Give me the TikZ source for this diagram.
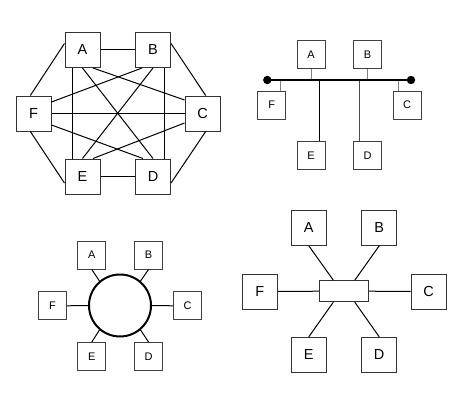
\documentclass[tikz,border=0pt]{standalone}
\usepackage{fontspec}
\setmainfont{Liberation Sans}
\tikzset{
  bigbox/.style={draw=black!80, line width=1pt, minimum size=35pt, inner sep=0pt, font=\fontsize{14.5}{14.5}\selectfont},
  smallbox/.style={draw=black!75, line width=1pt, minimum size=28pt, inner sep=0pt, font=\fontsize{11}{11}\selectfont},
  link/.style={line width=1pt},
  tap/.style={line width=1pt, draw=black!50}
}
\begin{document}
\begin{tikzpicture}[x=1pt, y=-1pt]
    \useasboundingbox (0,0) rectangle (455,412);

    % Mesh
    \node[bigbox] (mA) at (82.5,50) {A};
    \node[bigbox] (mB) at (153,50) {B};
    \node[bigbox] (mC) at (202.5,113.5) {C};
    \node[bigbox] (mD) at (153,176.5) {D};
    \node[bigbox] (mE) at (82.5,176.5) {E};
    \node[bigbox] (mF) at (33.5,113.5) {F};
    \draw[link] (mA.east) -- (mB.west);
    \draw[link] (mE.east) -- (mD.west);
    \draw[link] (mF.east) -- (mC.west);
    \draw[link] (mA.160) -- (mF.100);
    \draw[link] (mB.20) -- (mC.80);
    \draw[link] (mF.260) -- (mE.200);
    \draw[link] (mC.280) -- (mD.340);
    \draw[link] ([xshift=-10pt]mA.south) -- ([xshift=-10pt]mE.north);
    \draw[link] ([xshift=11pt]mB.south) -- ([xshift=11pt]mD.north);
    \draw[link] (mA.south) -- (mD.north);
    \draw[link] (mB.south) -- (mE.north);
    \draw[link] ([xshift=10.5pt]mA.south) -- ([yshift=13.5pt]mC.west);
    \draw[link] ([xshift=-11pt]mB.south) -- ([yshift=11.5pt]mF.east);
    \draw[link] ([yshift=-11.5pt]mF.east) -- ([xshift=-10pt]mD.north);
    \draw[link] ([xshift=10.5pt]mE.north) -- ([yshift=-9.5pt]mC.west);

    % Bus
    \node[smallbox] (bA) at (311,54.5) {A};
    \node[smallbox] (bB) at (367.5,54.5) {B};
    \node[smallbox] (bC) at (407,105) {C};
    \node[smallbox] (bD) at (367.5,155.5) {D};
    \node[smallbox] (bE) at (311,155.5) {E};
    \node[smallbox] (bF) at (271.7,105) {F};
    \coordinate (busL) at (267.3,80);
    \coordinate (busR) at (411,80);
    \coordinate (tF) at ([xshift=8.3pt]bF.north);
    \coordinate (tC) at ([xshift=-8.7pt]bC.north);
    \coordinate (tE) at ([xshift=8.3pt]bE.north);
    \coordinate (tD) at ([xshift=-8.5pt]bD.north);
    \draw[tap] (bA.south) -- (bA.south |- busL);
    \draw[tap] (bB.south) -- (bB.south |- busL);
    \draw[tap] (tF) -- (tF |- busL);
    \draw[tap] (tC) -- (tC |- busL);
    \draw[link] (tE) -- (tE |- busL);
    \draw[link, black!70] (tD) -- (tD |- busL);
    \draw[line width=2pt] (busL) -- (busR);
    \fill (busL) circle (4.2);
    \fill (busR) circle (4.2);

    % Ring
    \node[draw, circle, line width=2pt, minimum size=62pt, inner sep=0pt] (ring) at (120,305.5) {};
    \node[smallbox] (rA) at (91.8,255) {A};
    \node[smallbox] (rB) at (148.5,255) {B};
    \node[smallbox] (rC) at (187.5,305.8) {C};
    \node[smallbox] (rD) at (148.5,356.5) {D};
    \node[smallbox] (rE) at (91.8,356.5) {E};
    \node[smallbox] (rF) at (52.5,305.8) {F};
    \draw[link] (rA.south) -- (ring.130);
    \draw[link] (rB.south) -- (ring.50);
    \draw[link] (rF.east) -- (ring.west);
    \draw[link] (ring.east) -- (rC.west);
    \draw[link] (rE.north) -- (ring.230);
    \draw[link] (rD.north) -- (ring.310);

    % Star
    \node[draw=black!80, line width=1pt, minimum width=49pt, minimum height=21pt, inner sep=0pt] (hub) at (343.8,291.2) {};
    \node[bigbox] (sA) at (308.8,227.8) {A};
    \node[bigbox] (sB) at (379.2,227.8) {B};
    \node[bigbox] (sC) at (428.5,291.5) {C};
    \node[bigbox] (sD) at (379.2,354.8) {D};
    \node[bigbox] (sE) at (308.8,354.8) {E};
    \node[bigbox] (sF) at (259.8,291.5) {F};
    \draw[link] (sA.south) -- ([xshift=-10.5pt]hub.north);
    \draw[link] (sB.south) -- ([xshift=11pt]hub.north);
    \draw[link] (sF.east) -- (hub.west);
    \draw[link] (hub.east) -- (sC.west);
    \draw[link] (sE.north) -- ([xshift=-10.5pt]hub.south);
    \draw[link] (sD.north) -- ([xshift=11pt]hub.south);
\end{tikzpicture}
\end{document}
